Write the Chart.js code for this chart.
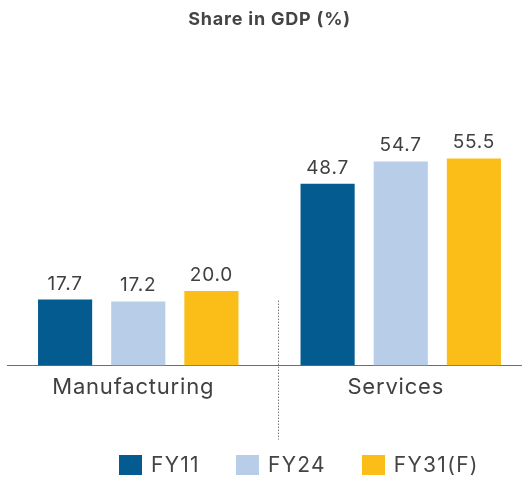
<!DOCTYPE html>
<html>
<head>
<meta charset="utf-8">
<script src="https://cdn.jsdelivr.net/npm/chart.js@4"></script>
<style>
    html, body { margin: 0; padding: 0; background: #fff; overflow: hidden; }
    #wrap { position: absolute; left: 0; top: 0; width: 534px; height: 477px; }
    #legend { position: absolute; left: 119px; top: 452px; display: flex; align-items: center;
              font-family: Inter, sans-serif; font-size: 21px; letter-spacing: 1.3px; color: #444; }
    #legend .item { display: flex; align-items: center; margin-right: 36px; }
    #legend .box { width: 23px; height: 20px; margin-right: 9px; }
</style>
</head>
<body>
<div id="wrap"><canvas id="gdp-chart"></canvas></div>
<div id="legend"></div>
<script>
/* Share in GDP (%) — grouped bar chart */

const categories = ['Manufacturing', 'Services'];
const seriesNames = ['FY11', 'FY24', 'FY31(F)'];
const fy11 = [17.7, 48.7];
const fy24 = [17.2, 54.7];
const fy31 = [20.0, 55.5];
const seriesColors = ['#035b8f', '#b8cde8', '#fbbe19'];

const FONT = "Inter, Roboto, sans-serif";

// the original type is a wide grotesque, so loosen the tracking a bit
const tracking = {
    id: 'tracking',
    beforeDraw(chart) {
        chart.ctx.letterSpacing = '0.8px';
    }
};

// value labels above each bar
const valueLabels = {
    id: 'valueLabels',
    afterDatasetsDraw(chart) {
        const ctx = chart.ctx;
        ctx.save();
        ctx.font = '19px ' + FONT;
        ctx.letterSpacing = '0.8px';
        ctx.fillStyle = '#404040';
        ctx.textAlign = 'center';
        ctx.textBaseline = 'alphabetic';
        chart.data.datasets.forEach((ds, i) => {
            chart.getDatasetMeta(i).data.forEach((bar, j) => {
                ctx.fillText(ds.data[j].toFixed(1), bar.x, bar.y - 10);
            });
        });
        ctx.restore();
    }
};

// dotted divider between the two groups
const divider = {
    id: 'divider',
    afterDraw(chart) {
        const ctx = chart.ctx;
        const x = chart.scales.x.getPixelForValue(0.5) + 8;
        const y0 = chart.scales.y.getPixelForValue(0);
        ctx.save();
        ctx.strokeStyle = '#777';
        ctx.lineWidth = 1;
        ctx.setLineDash([1.5, 1.5]);
        ctx.beginPath();
        ctx.moveTo(Math.round(x) + 0.5, y0 - 65);
        ctx.lineTo(Math.round(x) + 0.5, y0 + 74);
        ctx.stroke();
        ctx.restore();
    }
};

const seriesData = [fy11, fy24, fy31];

const chart = new Chart(document.getElementById('gdp-chart'), {
    type: 'bar',
    data: {
        labels: categories,
        datasets: seriesNames.map((name, i) => ({
            label: name,
            data: seriesData[i],
            backgroundColor: seriesColors[i],
            borderWidth: 0,
            categoryPercentage: 0.836,
            barPercentage: 0.74,
        }))
    },
    options: {
        responsive: true,
        maintainAspectRatio: false,
        animation: false,
        layout: { padding: { left: 7, right: 2, top: 0, bottom: 67 } },
        scales: {
            x: {
                grid: { drawOnChartArea: false, drawTicks: false },
                border: { display: true, color: '#6e6e6e', width: 1 },
                ticks: {
                    color: '#404040',
                    padding: 9,
                    labelOffset: -5,
                    font: { family: FONT, size: 22 }
                }
            },
            y: {
                display: false,
                min: 0,
                max: 60
            }
        },
        plugins: {
            legend: { display: false },
            tooltip: { enabled: false },
            title: {
                display: true,
                text: 'Share in GDP (%)',
                color: '#444',
                padding: { top: 9, bottom: 111 },
                font: { family: FONT, size: 18, weight: 'bold' }
            }
        }
    },
    plugins: [tracking, valueLabels, divider]
});

// html legend
const legendEl = document.getElementById('legend');
chart.data.datasets.forEach((ds) => {
    const item = document.createElement('div');
    item.className = 'item';
    const box = document.createElement('span');
    box.className = 'box';
    box.style.background = ds.backgroundColor;
    const txt = document.createElement('span');
    txt.textContent = ds.label;
    item.appendChild(box);
    item.appendChild(txt);
    legendEl.appendChild(item);
});
</script>
</body>
</html>
